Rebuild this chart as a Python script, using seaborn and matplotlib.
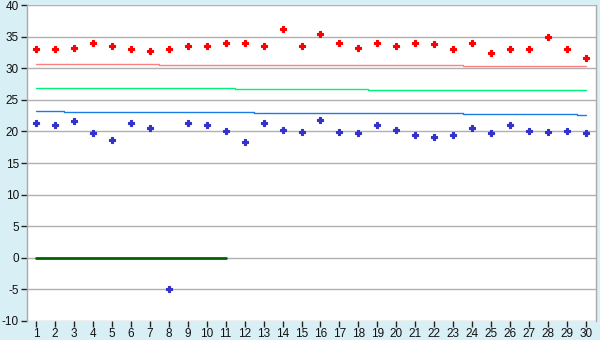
import matplotlib
matplotlib.use("Agg")
import matplotlib.pyplot as plt
import seaborn as sns
import pandas as pd

x_values = list(range(1, 31))
red_points = [33.0, 33.0, 33.3, 34.1, 33.5, 33.0, 32.8, 33.0, 33.5, 33.6,
              34.1, 34.1, 33.6, 36.2, 33.6, 35.5, 34.1, 33.2, 34.1, 33.5,
              34.1, 33.8, 33.0, 33.95, 32.5, 33.0, 33.0, 35.05, 33.0, 31.7]
blue_points = [21.3, 20.95, 21.6, 19.7, 18.7, 21.4, 20.6, -5.0, 21.4, 21.1,
               20.0, 18.25, 21.4, 20.3, 19.85, 21.75, 19.85, 19.7, 20.95, 20.3,
               19.5, 19.2, 19.5, 20.6, 19.7, 21.1, 20.0, 19.85, 20.0, 19.7]
pink_line = [30.65, 30.65, 30.65, 30.65, 30.65, 30.65, 30.65, 30.5, 30.5, 30.5,
             30.5, 30.5, 30.5, 30.5, 30.5, 30.5, 30.5, 30.5, 30.5, 30.5,
             30.5, 30.5, 30.5, 30.3, 30.3, 30.3, 30.3, 30.3, 30.3, 30.3]
green_line = [26.85, 26.85, 26.85, 26.85, 26.85, 26.85, 26.85, 26.85, 26.85, 26.85,
              26.85, 26.7, 26.7, 26.7, 26.7, 26.7, 26.7, 26.7, 26.5, 26.5,
              26.5, 26.5, 26.5, 26.5, 26.5, 26.5, 26.5, 26.5, 26.5, 26.5]
blue_line = [23.2, 23.2, 23.05, 23.05, 23.05, 23.05, 23.05, 23.05, 23.05, 23.05,
             23.05, 23.05, 22.9, 22.9, 22.9, 22.9, 22.9, 22.9, 22.9, 22.9,
             22.9, 22.9, 22.9, 22.75, 22.75, 22.75, 22.75, 22.75, 22.75, 22.6]
dark_x = [1, 2, 3, 4, 5, 6, 7, 8, 9, 10, 11]
dark_line = [-0.1, -0.1, -0.1, -0.1, -0.1, -0.1, -0.1, -0.1, -0.1, -0.1, -0.1]
y_ticks = [-10, -5, 0, 5, 10, 15, 20, 25, 30, 35, 40]
y_tick_labels = ["-10", "-5", "0", "5", "10", "15", "20", "25", "30", "35", "40"]

sns.set_theme(style="white")
plt.rcParams['font.family'] = ['Liberation Sans', 'DejaVu Sans']

fig = plt.figure(figsize=(6.0, 3.4), dpi=100)
fig.patch.set_facecolor("#d9eff6")
ax = fig.add_axes([26.5 / 600, 1 - 320.7 / 340, (595.5 - 26.5) / 600, (320.7 - 5.3) / 340])
ax.set_facecolor("white")

df = pd.DataFrame({"x": x_values, "red": red_points, "blue": blue_points,
                   "pink": pink_line, "green": green_line, "bline": blue_line})
ddf = pd.DataFrame({"x": dark_x, "y": dark_line})

lkw = dict(drawstyle="steps-mid", lw=1.0, ax=ax, legend=False, errorbar=None)
sns.lineplot(data=df, x="x", y="pink", color="#ff8080", **lkw)
sns.lineplot(data=df, x="x", y="green", color="#00f07a", **lkw)
sns.lineplot(data=df, x="x", y="bline", color="#1a7de6", **lkw)
sns.lineplot(data=ddf, x="x", y="y", color="#006400", drawstyle="steps-mid", lw=2.0,
             ax=ax, legend=False, errorbar=None)

sns.scatterplot(data=df, x="x", y="red", color="#ff0000", marker="P", s=18,
                linewidth=0.8, edgecolor="#ff0000", ax=ax, legend=False, zorder=5)
sns.scatterplot(data=df, x="x", y="blue", color="#3333cc", marker="P", s=18,
                linewidth=0.8, edgecolor="#3333cc", ax=ax, legend=False, zorder=5)

ax.set_xlim(0.5, 30.5)
ax.set_ylim(-10, 40)
ax.set_xticks(x_values)
ax.set_yticks(y_ticks)
ax.set_xticklabels([str(v) for v in x_values])
ax.set_yticklabels(y_tick_labels)
ax.yaxis.grid(True, color="#b0b0b0", lw=1.0)
ax.xaxis.grid(False)
ax.set_axisbelow(True)
ax.set_xlabel("")
ax.set_ylabel("")
for s in ["left", "right", "top", "bottom"]:
    ax.spines[s].set_visible(True)
    ax.spines[s].set_color("#aaaaaa")
    ax.spines[s].set_linewidth(1.0)
ax.spines["top"].set_visible(False)
ax.spines["bottom"].set_visible(False)
ax.tick_params(axis="both", which="both", direction="out", length=4, width=1,
               color="#222222", labelsize=8.5, labelcolor="#111111", pad=1.5,
               left=True, bottom=True)

fig.savefig("out.png", dpi=100, facecolor=fig.get_facecolor())
